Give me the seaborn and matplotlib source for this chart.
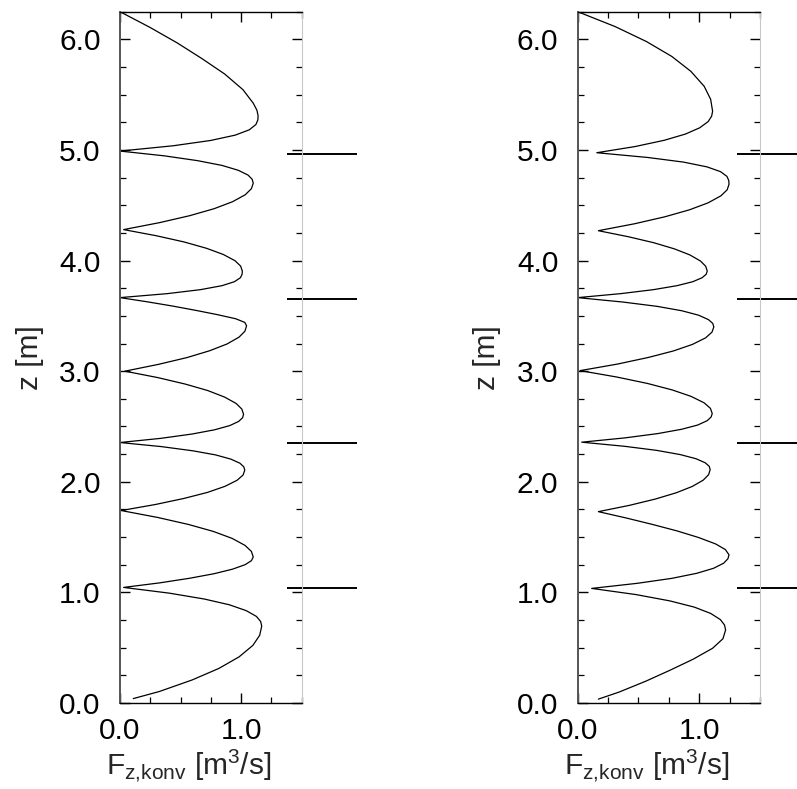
import numpy as np
import pandas as pd
import matplotlib
matplotlib.use("Agg")
import matplotlib.pyplot as plt
from matplotlib.ticker import MultipleLocator, FixedLocator, FixedFormatter
import seaborn as sns

# ---------------- data ----------------
left_z = [6.25, 6.109, 5.968, 5.827, 5.686, 5.545, 5.423, 5.36, 5.31,
          5.272, 5.23, 5.182, 5.134, 5.086, 5.038, 4.99,
          4.947, 4.903, 4.86, 4.816, 4.773, 4.735, 4.70,
          4.65, 4.595, 4.532, 4.469, 4.406, 4.343, 4.28,
          4.224, 4.168, 4.111, 4.055, 3.999, 3.95, 3.905,
          3.876, 3.845, 3.809, 3.773, 3.737, 3.701, 3.665,
          3.627, 3.589, 3.55, 3.512, 3.474, 3.441, 3.41,
          3.361, 3.308, 3.246, 3.185, 3.123, 3.062, 3.00,
          2.942, 2.883, 2.825, 2.766, 2.708, 2.657, 2.61,
          2.579, 2.546, 2.508, 2.47, 2.432, 2.393, 2.355,
          2.318, 2.28, 2.243, 2.205, 2.168, 2.135, 2.105,
          2.061, 2.014, 1.959, 1.904, 1.85, 1.795, 1.74,
          1.677, 1.614, 1.551, 1.488, 1.425, 1.37, 1.32,
          1.287, 1.251, 1.21, 1.169, 1.128, 1.086, 1.045,
          0.993, 0.94, 0.888, 0.835, 0.783, 0.737, 0.695,
          0.612, 0.521, 0.417, 0.313, 0.209, 0.104, 0.04]
left_F = [0.0, 0.246, 0.472, 0.675, 0.865, 1.015, 1.10, 1.13, 1.14,
          1.138, 1.122, 1.067, 0.951, 0.749, 0.44, 0.0,
          0.365, 0.642, 0.843, 0.977, 1.057, 1.091, 1.10,
          1.085, 1.034, 0.929, 0.777, 0.576, 0.327, 0.03,
          0.302, 0.53, 0.714, 0.853, 0.949, 0.996, 1.01,
          1.008, 0.994, 0.945, 0.842, 0.664, 0.39, 0.0,
          0.226, 0.433, 0.625, 0.80, 0.955, 1.03, 1.045,
          1.031, 0.983, 0.884, 0.741, 0.553, 0.319, 0.04,
          0.312, 0.54, 0.724, 0.863, 0.959, 1.006, 1.02,
          1.012, 0.98, 0.906, 0.781, 0.596, 0.339, 0.0,
          0.342, 0.602, 0.789, 0.915, 0.99, 1.022, 1.03,
          1.016, 0.967, 0.867, 0.722, 0.53, 0.294, 0.01,
          0.313, 0.566, 0.771, 0.926, 1.032, 1.085, 1.10,
          1.085, 1.034, 0.929, 0.777, 0.576, 0.327, 0.03,
          0.408, 0.696, 0.903, 1.042, 1.126, 1.161, 1.17,
          1.153, 1.097, 0.983, 0.817, 0.597, 0.325, 0.11]

right_z = [6.25, 6.115, 5.98, 5.845, 5.71, 5.575, 5.458, 5.35,
           5.305, 5.256, 5.2, 5.144, 5.088, 5.031, 4.975,
           4.932, 4.89, 4.847, 4.804, 4.761, 4.724, 4.69,
           4.64, 4.585, 4.522, 4.459, 4.396, 4.333, 4.27,
           4.215, 4.161, 4.106, 4.051, 3.996, 3.949, 3.905,
           3.876, 3.845, 3.809, 3.773, 3.737, 3.701, 3.665,
           3.625, 3.586, 3.546, 3.506, 3.466, 3.432, 3.40,
           3.353, 3.301, 3.242, 3.183, 3.124, 3.064, 3.005,
           2.947, 2.889, 2.83, 2.772, 2.714, 2.664, 2.617,
           2.586, 2.552, 2.513, 2.475, 2.436, 2.397, 2.358,
           2.321, 2.284, 2.246, 2.209, 2.172, 2.14, 2.11,
           2.064, 2.015, 1.958, 1.901, 1.844, 1.787, 1.73,
           1.672, 1.613, 1.555, 1.496, 1.438, 1.387, 1.34,
           1.304, 1.264, 1.218, 1.173, 1.127, 1.082, 1.036,
           0.98, 0.923, 0.867, 0.81, 0.754, 0.705, 0.66,
           0.581, 0.495, 0.396, 0.297, 0.198, 0.099, 0.035]
right_F = [0.0, 0.309, 0.566, 0.775, 0.932, 1.041, 1.094, 1.11,
           1.102, 1.073, 1.003, 0.887, 0.714, 0.473, 0.157,
           0.577, 0.872, 1.064, 1.175, 1.228, 1.243, 1.245,
           1.23, 1.178, 1.073, 0.92, 0.718, 0.469, 0.17,
           0.419, 0.627, 0.795, 0.923, 1.01, 1.053, 1.066,
           1.057, 1.024, 0.947, 0.817, 0.623, 0.354, 0.0,
           0.372, 0.654, 0.858, 0.995, 1.076, 1.111, 1.12,
           1.105, 1.052, 0.944, 0.788, 0.581, 0.326, 0.02,
           0.322, 0.574, 0.779, 0.933, 1.04, 1.092, 1.107,
           1.098, 1.065, 0.987, 0.856, 0.66, 0.39, 0.033,
           0.384, 0.65, 0.843, 0.972, 1.049, 1.082, 1.09,
           1.077, 1.033, 0.943, 0.812, 0.639, 0.426, 0.17,
           0.402, 0.62, 0.82, 0.995, 1.135, 1.215, 1.245,
           1.236, 1.201, 1.118, 0.981, 0.775, 0.49, 0.115,
           0.481, 0.759, 0.959, 1.094, 1.174, 1.208, 1.217,
           1.195, 1.11, 0.95, 0.761, 0.562, 0.341, 0.17]

# horizontal marks to the right of each panel
mark_z = [4.965, 3.655, 2.348, 1.039]
left_mark_x = [1.38, 1.96]
right_mark_x = [1.31, 1.90]

y_ticks = [0.0, 1.0, 2.0, 3.0, 4.0, 5.0, 6.0]
y_labels = ["0.0", "1.0", "2.0", "3.0", "4.0", "5.0", "6.0"]
x_ticks = [0.0, 1.0]
x_labels = ["0.0", "1.0"]

# ---------------- style ----------------
sns.set_style("ticks")
plt.rcParams["font.family"] = ["Liberation Sans", "DejaVu Sans"]
plt.rcParams["mathtext.fontset"] = "custom"
plt.rcParams["mathtext.rm"] = "Liberation Sans"
plt.rcParams["mathtext.it"] = "Liberation Sans"
plt.rcParams["mathtext.default"] = "regular"

FS = 21.5
fig = plt.figure(figsize=(7.97, 7.89), dpi=100)
W, H = 797.0, 789.0
ax_l = fig.add_axes([120 / W, 1 - 703 / H, 181.7 / W, 691.3 / H])
ax_r = fig.add_axes([577.7 / W, 1 - 703 / H, 182.3 / W, 691.3 / H])

panels = [(ax_l, left_z, left_F, left_mark_x), (ax_r, right_z, right_F, right_mark_x)]
for ax, zz, FF, mx in panels:
    df = pd.DataFrame({"F": FF, "z": zz})
    sns.lineplot(data=df, x="F", y="z", sort=False, estimator=None,
                 color="black", lw=0.9, ax=ax)
    ax.hlines(mark_z, mx[0], mx[1], colors="black", lw=1.4, clip_on=False)
    ax.set_xlim(0, 1.5)
    ax.set_ylim(0, 6.25)
    ax.xaxis.set_major_locator(FixedLocator(x_ticks))
    ax.xaxis.set_major_formatter(FixedFormatter(x_labels))
    ax.xaxis.set_minor_locator(MultipleLocator(0.25))
    ax.yaxis.set_major_locator(FixedLocator(y_ticks))
    ax.yaxis.set_major_formatter(FixedFormatter(y_labels))
    ax.yaxis.set_minor_locator(MultipleLocator(0.25))
    ax.tick_params(which="both", direction="in", top=True, right=True,
                   colors="black", labelsize=FS)
    ax.tick_params(which="major", length=7, width=1.0)
    ax.tick_params(which="minor", length=4, width=0.9)
    ax.tick_params(axis="y", which="major", pad=14)
    ax.tick_params(axis="x", which="major", pad=10)
    for s in ["top", "bottom"]:
        ax.spines[s].set_color("black")
        ax.spines[s].set_linewidth(1.0)
    ax.spines["left"].set_color("#555555")
    ax.spines["left"].set_linewidth(1.4)
    ax.spines["right"].set_color("#c8c8c8")
    ax.spines["right"].set_linewidth(0.8)
    ax.set_ylabel("z [m]", fontsize=FS, labelpad=11)
    ax.set_xlabel(r"F$_{\mathrm{z{,}konv}}$ [m$^{3}$/s]", fontsize=FS, labelpad=2)
    ax.xaxis.label.set_x(0.38)
    ax.grid(False)

fig.savefig("out.png", dpi=100)
